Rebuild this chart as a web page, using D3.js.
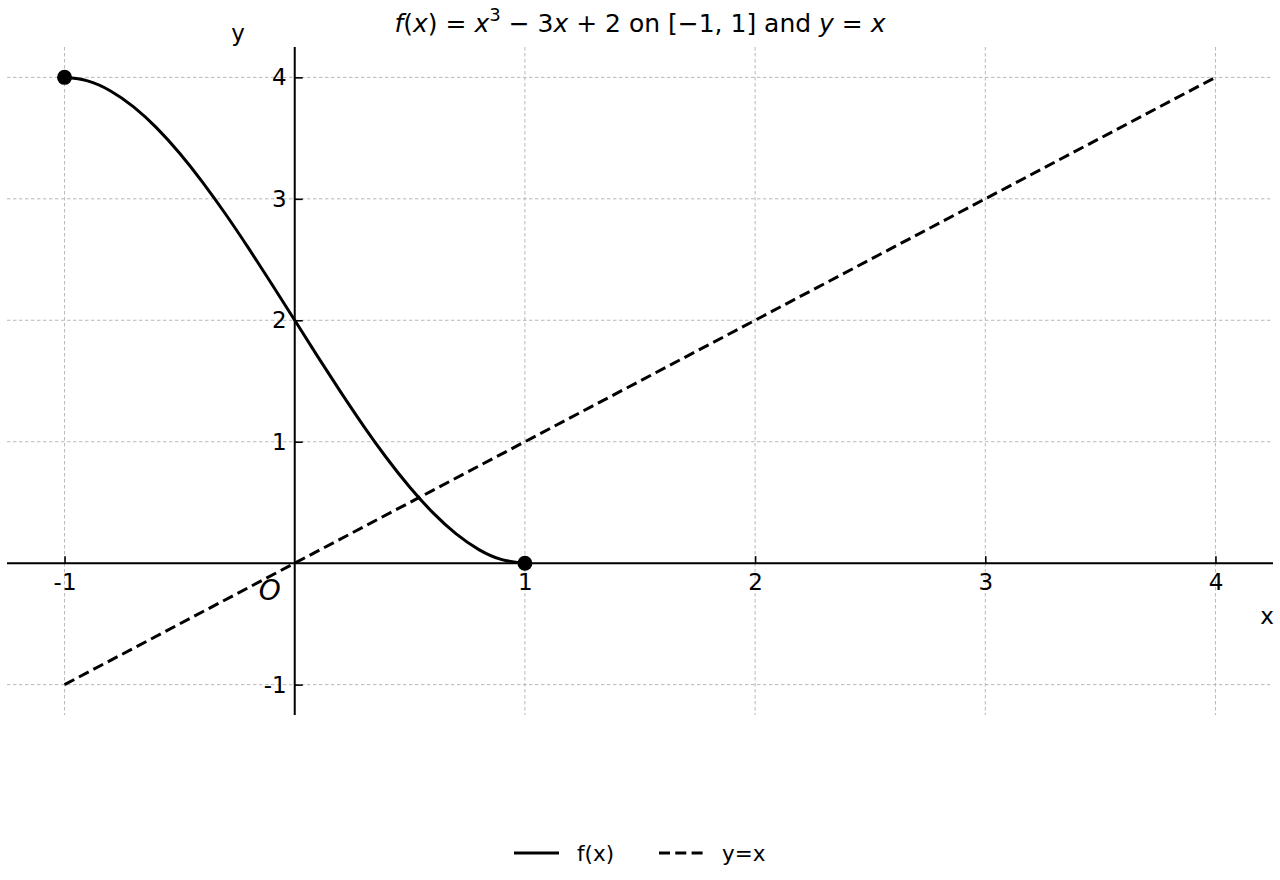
<!DOCTYPE html>
<html>
<head>
<meta charset="utf-8">
<script src="https://cdn.jsdelivr.net/npm/d3@7"></script>
<style>
  html, body { margin: 0; padding: 0; background: #fff; }
  svg { display: block; font-family: "DejaVu Sans", sans-serif; }
</style>
</head>
<body>
<svg id="chart" width="1280" height="880"></svg>
<script>
// ---- data ----
const fxX = [-1, -0.9, -0.8, -0.7, -0.6, -0.5, -0.4, -0.3, -0.2, -0.1, 0, 0.1, 0.2, 0.3, 0.4, 0.5, 0.6, 0.7, 0.8, 0.9, 1];
const fxY = [4.000, 3.971, 3.888, 3.757, 3.584, 3.375, 3.136, 2.873, 2.592, 2.299, 2.000, 1.701, 1.408, 1.127, 0.864, 0.625, 0.416, 0.243, 0.112, 0.029, 0.000];
const lineX = [-1, 4];
const lineY = [-1, 4];
const endPointsX = [-1, 1];
const endPointsY = [4, 0];
const xTicks = [-1, 1, 2, 3, 4];
const yTicks = [-1, 1, 2, 3, 4];
const xGrid = [-1, 0, 1, 2, 3, 4];
const yGrid = [-1, 0, 1, 2, 3, 4];
const legendLabels = ["f(x)", "y=x"];

const svg = d3.select("#chart");
const pLeft = 7, pRight = 1273, pTop = 47, pBottom = 715;
const x = d3.scaleLinear().domain([-1.25, 4.25]).range([pLeft, pRight]);
const y = d3.scaleLinear().domain([-1.25, 4.25]).range([pBottom, pTop]);
const DASH = "11,5.3";

// grid
const grid = svg.append("g");
grid.selectAll("line.vx").data(xGrid).enter().append("line")
  .attr("x1", d => x(d)).attr("x2", d => x(d)).attr("y1", pTop).attr("y2", pBottom)
  .attr("stroke", "#b0b0b0").attr("stroke-width", 0.9).attr("stroke-dasharray", "3.5,2.5");
grid.selectAll("line.hy").data(yGrid).enter().append("line")
  .attr("y1", d => y(d)).attr("y2", d => y(d)).attr("x1", pLeft).attr("x2", pRight)
  .attr("stroke", "#b0b0b0").attr("stroke-width", 0.9).attr("stroke-dasharray", "3.5,2.5");

// axes through origin
const xAxis = d3.axisBottom(x).tickValues(xTicks).tickFormat(d => d < 0 ? "-" + Math.abs(d) : d)
  .tickSizeInner(-7).tickSizeOuter(0).tickPadding(10);
const gx = svg.append("g").attr("transform", `translate(0,${y(0)})`).call(xAxis);
gx.select(".domain").attr("stroke", "#000").attr("stroke-width", 2).attr("d", `M${pLeft},0H${pRight}`);
gx.selectAll(".tick line").attr("stroke", "#000").attr("stroke-width", 1.6);
gx.selectAll(".tick text").attr("font-size", 23).attr("fill", "#000").attr("font-family", "DejaVu Sans");

const yAxis = d3.axisLeft(y).tickValues(yTicks).tickFormat(d => d < 0 ? "-" + Math.abs(d) : d)
  .tickSizeInner(-8).tickSizeOuter(0).tickPadding(8);
const gy = svg.append("g").attr("transform", `translate(${x(0)},0)`).call(yAxis);
gy.select(".domain").attr("stroke", "#000").attr("stroke-width", 2).attr("d", `M0,${pTop}V${pBottom}`);
gy.selectAll(".tick line").attr("stroke", "#000").attr("stroke-width", 1.6);
gy.selectAll(".tick text").attr("font-size", 23).attr("fill", "#000").attr("font-family", "DejaVu Sans");

// f(x) curve
const fxData = fxX.map((v, i) => [v, fxY[i]]);
svg.append("path").datum(fxData)
  .attr("fill", "none").attr("stroke", "#000").attr("stroke-width", 3)
  .attr("d", d3.line().x(d => x(d[0])).y(d => y(d[1])).curve(d3.curveNatural));

// y = x line
const lineData = lineX.map((v, i) => [v, lineY[i]]);
svg.append("path").datum(lineData)
  .attr("fill", "none").attr("stroke", "#000").attr("stroke-width", 3)
  .attr("stroke-dasharray", DASH)
  .attr("d", d3.line().x(d => x(d[0])).y(d => y(d[1])));

// end points
svg.selectAll("circle.pt").data(endPointsX.map((v, i) => [v, endPointsY[i]])).enter()
  .append("circle").attr("cx", d => x(d[0])).attr("cy", d => y(d[1])).attr("r", 7.5).attr("fill", "#000");

// labels
svg.append("text").attr("x", x(0) - 25).attr("y", y(0) + 37).attr("text-anchor", "middle")
  .attr("font-size", 28).attr("font-style", "italic").text("O");
svg.append("text").attr("x", 1267).attr("y", 624).attr("text-anchor", "middle")
  .attr("font-size", 23).text("x");
svg.append("text").attr("x", 238).attr("y", 41).attr("text-anchor", "middle")
  .attr("font-size", 23).text("y");

// title
const title = svg.append("text").attr("x", 640).attr("y", 32).attr("text-anchor", "middle")
  .attr("font-size", 25);
const parts = [
  ["f", true], ["(", false], ["x", true], [") = ", false], ["x", true], ["3", false, true],
  [" − 3", false], ["x", true], [" + 2 on [−1, 1] and ", false], ["y", true], [" = ", false], ["x", true]
];
parts.forEach(p => {
  const t = title.append("tspan").text(p[0]);
  if (p[1]) t.attr("font-style", "italic");
  if (p[2]) t.attr("font-size", 18).attr("dy", -11);
  if (p[0] === " − 3") t.attr("dy", 11);
});

// legend
const leg = svg.append("g");
const legItems = [
  { x1: 514, x2: 559, tx: 577, dash: null, label: legendLabels[0] },
  { x1: 659, x2: 704, tx: 722, dash: DASH, label: legendLabels[1] }
];
legItems.forEach(it => {
  leg.append("line").attr("x1", it.x1).attr("x2", it.x2).attr("y1", 853).attr("y2", 853)
    .attr("stroke", "#000").attr("stroke-width", 3).attr("stroke-dasharray", it.dash);
  leg.append("text").attr("x", it.tx).attr("y", 861).attr("font-size", 21.5).text(it.label);
});
</script>
</body>
</html>
